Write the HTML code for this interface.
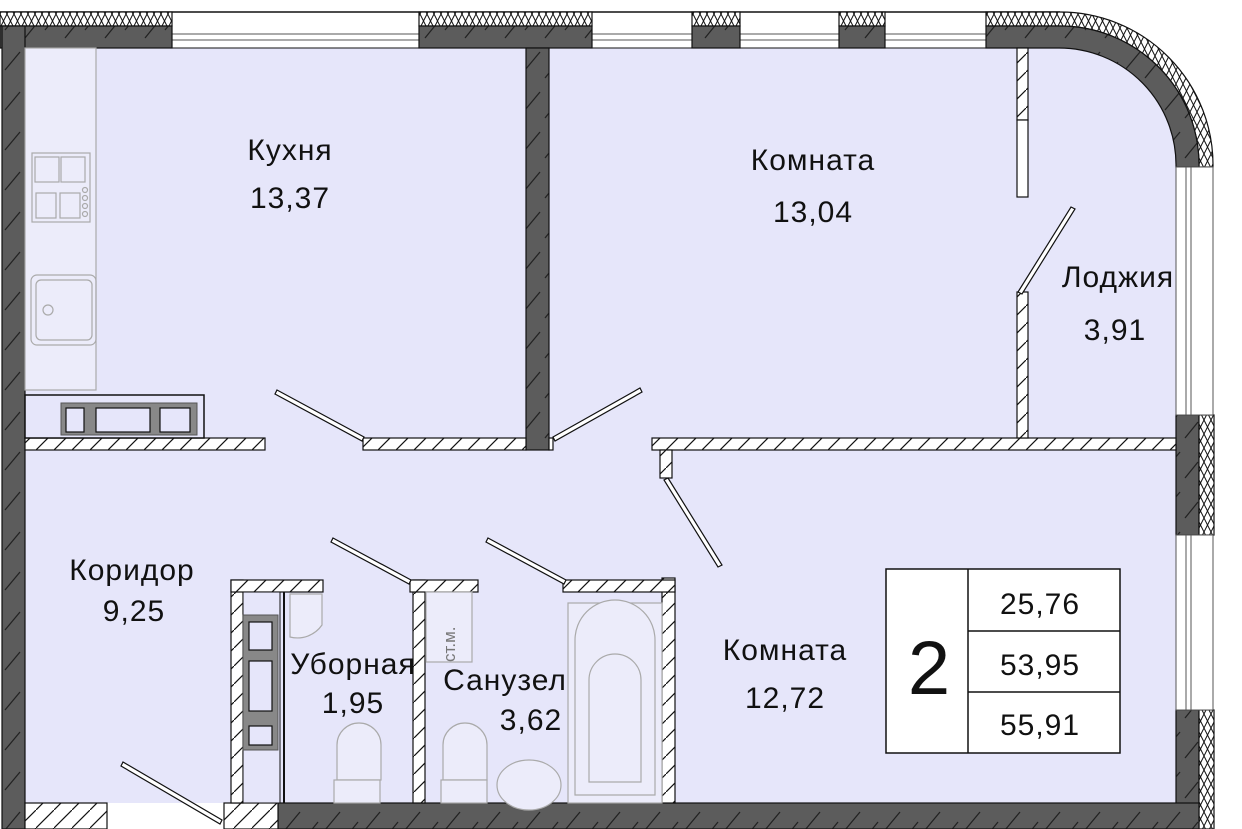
<!DOCTYPE html>
<html><head><meta charset="utf-8"><style>
html,body{margin:0;padding:0;background:#fff}
svg{display:block}
text{font-family:"Liberation Sans","DejaVu Sans",sans-serif;fill:#111}
</style></head><body>
<svg width="1242" height="829" viewBox="0 0 1242 829" xmlns="http://www.w3.org/2000/svg">
<defs>
<pattern id="dk" width="40" height="40" patternUnits="userSpaceOnUse">
<rect width="40" height="40" fill="#5c5c5c"/>
<path d="M5 30 L20 12 M25 38 L38 22" stroke="#222" stroke-width="1.3"/>
</pattern>
<pattern id="lt" width="18" height="18" patternUnits="userSpaceOnUse">
<rect width="18" height="18" fill="#fff"/>
<path d="M0 18 L18 0" stroke="#111" stroke-width="1.2"/>
</pattern>
<pattern id="ins" width="14" height="14" patternUnits="userSpaceOnUse">
<rect width="14" height="14" fill="#fff"/>
<path d="M0 0 L7 14 L14 0 M0 14 L7 0 L14 14" stroke="#111" stroke-width="1" fill="none"/>
</pattern>
</defs>

<!-- floor -->
<path d="M25 48 H1059 A117 117 0 0 1 1176 167 V803 H25 Z" fill="#e6e6fa"/>

<!-- top outer line -->
<path d="M0 12 H1060" stroke="#111" stroke-width="1.5"/>
<!-- top windows -->
<g stroke="#555" stroke-width="1">
<path d="M172 34 H419 M172 40 H419 M592 34 H692 M592 40 H692 M740 34 H839 M740 40 H839 M885 34 H986 M885 40 H986"/>
<path d="M172 48 H419 M592 48 H692 M740 48 H839 M885 48 H986" stroke="#111"/>
</g>
<!-- top wall segments -->
<g stroke="#111" stroke-width="1.2">
<rect x="0" y="12" width="172" height="14" fill="url(#ins)"/>
<rect x="0" y="26" width="172" height="22" fill="url(#dk)"/>
<rect x="419" y="12" width="173" height="14" fill="url(#ins)"/>
<rect x="419" y="26" width="173" height="22" fill="url(#dk)"/>
<rect x="692" y="12" width="48" height="14" fill="url(#ins)"/>
<rect x="692" y="26" width="48" height="22" fill="url(#dk)"/>
<rect x="839" y="12" width="46" height="14" fill="url(#ins)"/>
<rect x="839" y="26" width="46" height="22" fill="url(#dk)"/>
<!-- curved corner -->
<path d="M986 12 H1060 A153 153 0 0 1 1213 167 H1199 A139 139 0 0 0 1060 26 H986 Z" fill="url(#ins)"/>
<path d="M986 26 H1060 A139 139 0 0 1 1199 167 H1176 A117 117 0 0 0 1059 48 H986 Z" fill="url(#dk)"/>
<!-- left wall -->
<rect x="2" y="26" width="23" height="803" fill="url(#dk)"/>
<!-- right wall -->
<rect x="1176" y="415" width="23" height="120" fill="url(#dk)"/>
<rect x="1199" y="415" width="15" height="120" fill="url(#ins)"/>
<rect x="1176" y="710" width="23" height="119" fill="url(#dk)"/>
<rect x="1199" y="710" width="15" height="119" fill="url(#ins)"/>
<!-- bottom wall -->
<rect x="278" y="803" width="921" height="26" fill="url(#dk)"/>
<rect x="25" y="803" width="82" height="26" fill="url(#lt)"/>
<rect x="224" y="803" width="54" height="26" fill="url(#lt)"/>
</g>
<!-- right windows -->
<g stroke="#555" stroke-width="1" fill="none">
<rect x="1176" y="167" width="37" height="248" fill="#fff"/>
<path d="M1186 167 V415 M1191 167 V415"/>
<rect x="1176" y="535" width="37" height="175" fill="#fff"/>
<path d="M1186 535 V710 M1191 535 V710"/>
</g>

<!-- interior walls -->
<g stroke="#111" stroke-width="1.2">
<rect x="526" y="48" width="23" height="402" fill="url(#dk)"/>
<rect x="25" y="438" width="240" height="12" fill="url(#lt)"/>
<rect x="363" y="438" width="163" height="12" fill="url(#lt)"/>
<rect x="549" y="438" width="4" height="12" fill="#fff"/>
<rect x="652" y="438" width="524" height="12" fill="url(#lt)"/>
<rect x="660" y="450" width="12" height="28" fill="url(#lt)"/>
<rect x="1017" y="48" width="11" height="72" fill="url(#lt)"/>
<rect x="1017" y="120" width="11" height="77" fill="#fff"/>
<rect x="1017" y="292" width="11" height="146" fill="url(#lt)"/>
<!-- bathroom walls -->
<rect x="231" y="580" width="12" height="223" fill="url(#lt)"/>
<rect x="231" y="580" width="92" height="12" fill="url(#lt)"/>
<rect x="413" y="580" width="12" height="223" fill="url(#lt)"/>
<rect x="410" y="580" width="68" height="12" fill="url(#lt)"/>
<rect x="662" y="578" width="13" height="225" fill="url(#lt)"/>
<rect x="563" y="580" width="112" height="12" fill="url(#lt)"/>
</g>

<!-- doors -->
<g stroke="#111" stroke-width="1.2" fill="#fff">
<path d="M277 390 L364 437 L362 441 L275 394 Z"/>
<path d="M553 437 L640 388 L642 392 L555 441 Z"/>
<path d="M668 478 L722 565 L718 567 L664 480 Z"/>
<path d="M1018 292 L1071 207 L1075 209 L1022 294 Z"/>
<path d="M333 538 L411 580 L409 584 L331 542 Z"/>
<path d="M488 538 L566 580 L564 584 L486 542 Z"/>
<path d="M123 762 L222 820 L220 824 L121 766 Z"/>
</g>

<!-- kitchen furniture -->
<g stroke="#aaa" stroke-width="1.2" fill="none">
<rect x="25" y="48" width="71" height="342" fill="#ececfa"/>
<rect x="32" y="153" width="58" height="69"/>
<rect x="35" y="157" width="24" height="25"/><rect x="61" y="157" width="24" height="25"/>
<rect x="36" y="193" width="20" height="25"/><rect x="60" y="193" width="20" height="25"/>
<circle cx="85" cy="190" r="2.5"/><circle cx="85" cy="198" r="2.5"/><circle cx="85" cy="206" r="2.5"/><circle cx="85" cy="214" r="2.5"/>
<rect x="31" y="275" width="65" height="70" rx="6"/>
<rect x="36" y="280" width="56" height="60" rx="5"/>
<circle cx="48" cy="310" r="5"/>
</g>
<rect x="25" y="395" width="179" height="43" fill="#e6e6fa" stroke="#111" stroke-width="1.5"/>
<rect x="61" y="403" width="136" height="32" fill="#888" stroke="#555"/>
<g fill="#e6e6fa" stroke="#111" stroke-width="1.2">
<rect x="66" y="408" width="18" height="24"/><rect x="96" y="408" width="54" height="24"/><rect x="160" y="408" width="30" height="24"/>
</g>

<!-- WC cabinet -->
<rect x="243" y="592" width="37" height="211" fill="#e6e6fa" stroke="#111" stroke-width="1"/>
<rect x="243" y="615" width="35" height="135" fill="#888" stroke="#555"/>
<g fill="#e6e6fa" stroke="#111" stroke-width="1.2">
<rect x="249" y="622" width="23" height="28"/><rect x="249" y="661" width="23" height="50"/><rect x="249" y="726" width="23" height="19"/>
</g>
<path d="M284 592 V803" stroke="#111" stroke-width="2"/>
<g stroke="#aaa" stroke-width="1.2" fill="#ececfa">
<path d="M290 594 H322 V625 A30 30 0 0 1 290 637 Z"/>
<rect x="426" y="592" width="46" height="70"/>
<path d="M337 780 V745 A22 22 0 0 1 381 745 V780 Z"/><rect x="334" y="780" width="46" height="23"/>
<path d="M443 780 V745 A22 22 0 0 1 487 745 V780 Z"/><rect x="441" y="780" width="46" height="23"/>
<ellipse cx="529" cy="785" rx="32" ry="25"/>
<rect x="568" y="603" width="94" height="200"/>
<path d="M575 795 V640 A39 39 0 0 1 655 640 V795 Z"/>
<path d="M589 782 V680 A26 26 0 0 1 641 680 V782 Z"/>
</g>
<text x="0" y="0" font-size="17" transform="translate(455,662) rotate(-90)" style="fill:#777">ст.м.</text>

<!-- info box -->
<rect x="886" y="569" width="234" height="184" fill="#fff" stroke="#111" stroke-width="1.5"/>
<path d="M968 569 V753 M968 631 H1120 M968 692 H1120" stroke="#111" stroke-width="1.5"/>

<!-- labels -->
<g font-size="30" text-anchor="middle" letter-spacing="1">
<text x="290" y="160">Кухня</text>
<text x="290" y="208">13,37</text>
<text x="813" y="170">Комната</text>
<text x="813" y="222">13,04</text>
<text x="1118" y="287">Лоджия</text>
<text x="1115" y="340">3,91</text>
<text x="132" y="580">Коридор</text>
<text x="134" y="621">9,25</text>
<text x="353" y="674">Уборная</text>
<text x="353" y="713">1,95</text>
<text x="505" y="690">Санузел</text>
<text x="531" y="730">3,62</text>
<text x="785" y="660">Комната</text>
<text x="785" y="708">12,72</text>
<text x="1040" y="614">25,76</text>
<text x="1040" y="675">53,95</text>
<text x="1040" y="735">55,91</text>
<text x="929" y="694" font-size="76" letter-spacing="0">2</text>
</g>
</svg>
</body></html>
